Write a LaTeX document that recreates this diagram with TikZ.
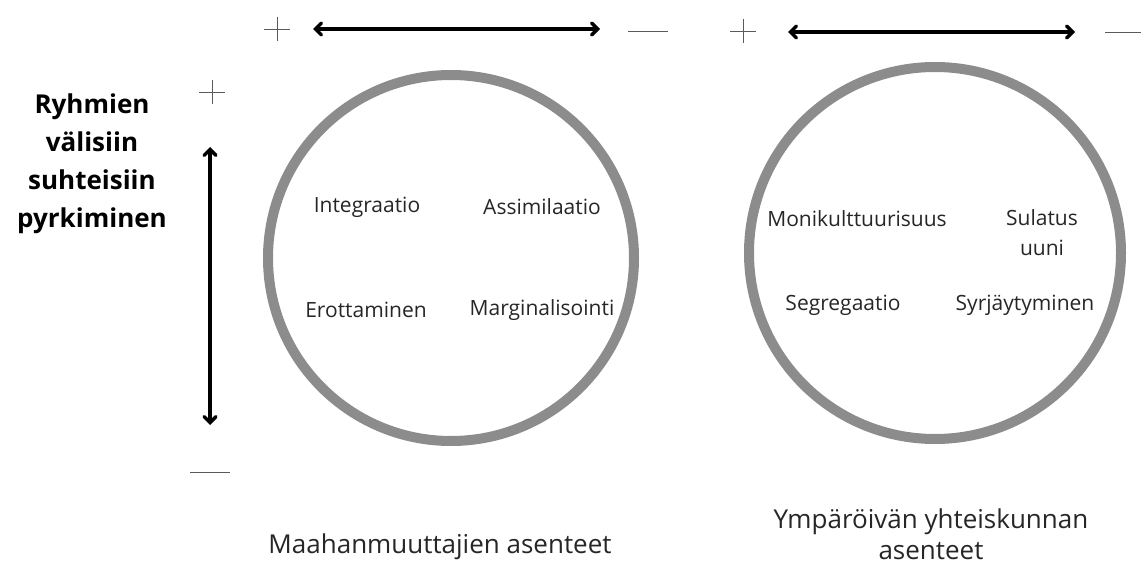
\documentclass[tikz,border=0pt]{standalone}
\usepackage{fontspec}
\setmainfont{Open Sans}
\usetikzlibrary{arrows.meta}
\definecolor{ringgray}{RGB}{140,140,140}
\definecolor{markgray}{RGB}{90,90,90}

\begin{document}
\begin{tikzpicture}[x=1pt,y=-1pt,
    ring/.style={circle, draw=ringgray, line width=10pt, inner sep=0pt},
    term/.style={font=\fontsize{21}{30}\selectfont, align=center, text=black!85},
    caption/.style={font=\fontsize{26}{31}\selectfont, align=center, text=black!85},
    axis/.style={line width=3.5pt, {Straight Barb[length=6pt,width=12pt,line cap=round]}-{Straight Barb[length=6pt,width=12pt,line cap=round]}},
    signline/.style={draw=markgray, line width=0.8pt}]
    \useasboundingbox (0,0) rectangle (1141,564);

    % circles
    \node[ring, minimum size=366pt] (imm) at (451,258) {};
    \node[ring, minimum size=372pt] (soc) at (935,253) {};

    \node[term] (int) at (367,207) {Integraatio};
    \node[term] (ass) at (542,207) {Assimilaatio};
    \node[term] (ero) at (366,310) {Erottaminen};
    \node[term] (mar) at (542,310) {Marginalisointi};

    \node[term] (mon) at (857,219) {Monikulttuurisuus};
    \node[term] (sul) at (1042,233) {Sulatus\\uuni};
    \node[term] (seg) at (843,305) {Segregaatio};
    \node[term] (syr) at (1025,305) {Syrjäytyminen};

    \node[caption] (capA) at (440,547) {Maahanmuuttajien asenteet};
    \node[caption] (capB) at (931,534) {Ympäröivän yhteiskunnan\\asenteet};

    \node[font=\fontsize{26}{38}\selectfont\bfseries, align=center] (goal) at (92,164)
        {Ryhmien\\välisiin\\suhteisiin\\pyrkiminen};

    % axes
    \coordinate (hA1) at (313,29);  \coordinate (hA2) at (600,29);
    \coordinate (hB1) at (788,32);  \coordinate (hB2) at (1075,32);
    \coordinate (v1) at (210,147);  \coordinate (v2) at (210,425);
    \draw[axis] (hA1) -- (hA2);
    \draw[axis] (hB1) -- (hB2);
    \draw[axis] (v1) -- (v2);

    % plus and minus marks
    \foreach \x/\y in {277/29, 743/31, 212/92}
        \draw[signline] (\x-13,\y) -- (\x+13,\y) (\x,\y-12) -- (\x,\y+12);
    \foreach \x/\y in {648/31, 1125/32, 210/472}
        \draw[signline] (\x-20,\y) -- (\x+20,\y);
\end{tikzpicture}
\end{document}
